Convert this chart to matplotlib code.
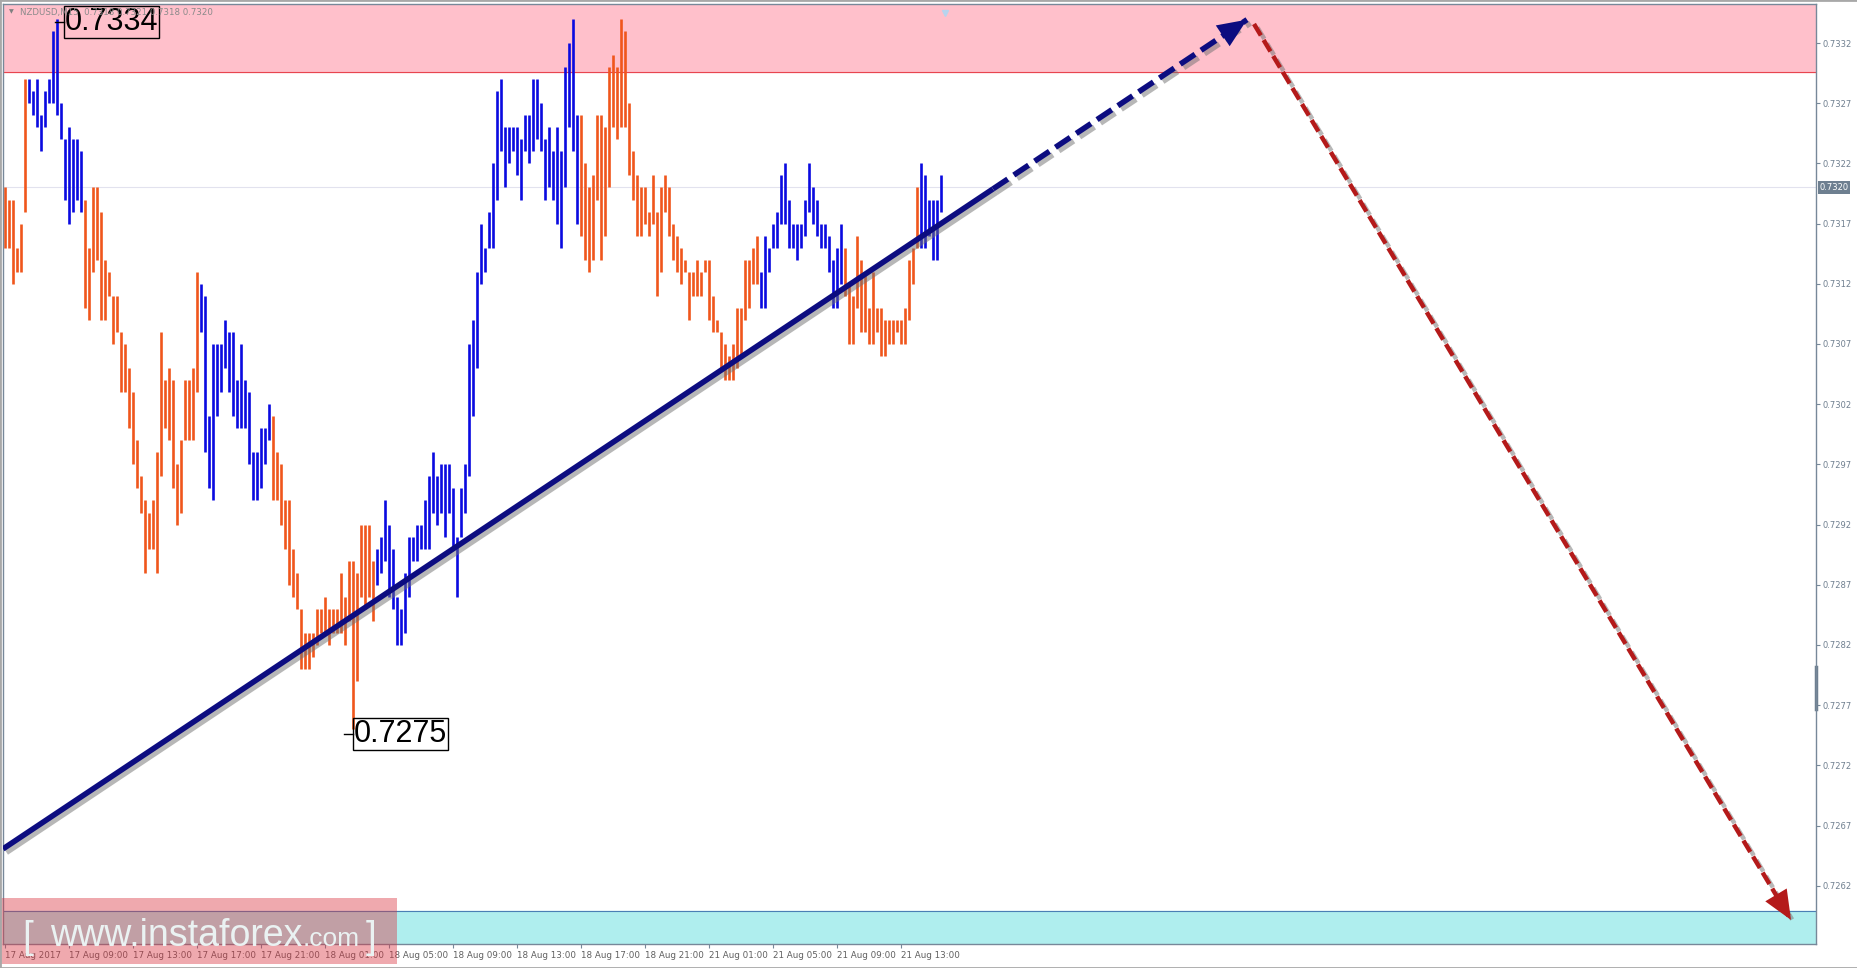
import matplotlib
matplotlib.use('Agg')
import matplotlib.pyplot as plt
import matplotlib.patheffects as pe
import matplotlib.transforms as mtransforms
from matplotlib.patches import Rectangle
import numpy as np

# NZDUSD M15, high / low of each bar in pips (0.0001)
highs = [7320, 7319, 7319, 7315, 7317, 7329, 7329, 7328, 7329, 7326, 7328, 7329, 7333, 7334, 7327, 7324, 7325, 7324, 7324, 7323,
         7319, 7315, 7320, 7320, 7318, 7314, 7313, 7311, 7311, 7308, 7307, 7305, 7303, 7299, 7296, 7294, 7293, 7294, 7298, 7308,
         7304, 7305, 7304, 7297, 7299, 7304, 7304, 7305, 7313, 7312, 7311, 7301, 7307, 7307, 7307, 7309, 7308, 7308, 7304,
         7307, 7304, 7303, 7298, 7298, 7300, 7300, 7302, 7301, 7298, 7297, 7294, 7294, 7290, 7288, 7285, 7283, 7283, 7283, 7285,
         7285, 7286, 7285, 7285, 7285, 7288, 7286, 7289, 7289, 7288, 7292, 7292, 7292, 7289, 7290, 7291, 7294, 7292, 7290, 7286,
         7285, 7288, 7291, 7291, 7292, 7292, 7294, 7296, 7298, 7296, 7297, 7297, 7297, 7295, 7291, 7295, 7297, 7307, 7309, 7313,
         7317, 7315, 7318, 7322, 7328, 7329, 7325, 7325, 7325, 7325, 7324, 7326, 7326, 7329, 7329, 7327, 7324, 7325, 7323, 7325,
         7323, 7330, 7332, 7334, 7326, 7326, 7322, 7320, 7321, 7326, 7326, 7325, 7330, 7331, 7330, 7334, 7333, 7327, 7323, 7321,
         7320, 7320, 7318, 7321, 7318, 7320, 7321, 7320, 7317, 7316, 7315, 7314, 7313, 7313, 7314, 7313, 7314, 7314, 7311, 7309,
         7308, 7307, 7306, 7307, 7310, 7310, 7314, 7314, 7315, 7316, 7313, 7316, 7315, 7317, 7318, 7321, 7322, 7319, 7317, 7317,
         7317, 7319, 7322, 7320, 7319, 7317, 7317, 7316, 7314, 7315, 7317, 7315, 7312, 7311, 7316, 7314, 7313, 7310, 7313, 7310,
         7310, 7309, 7309, 7309, 7309, 7309, 7310, 7314, 7315, 7320, 7322, 7321, 7319, 7319, 7319, 7321]
lows = [7315, 7315, 7312, 7313, 7313, 7318, 7327, 7326, 7325, 7323, 7325, 7327, 7327, 7326, 7324, 7319, 7317, 7318, 7319, 7318,
        7310, 7309, 7313, 7314, 7309, 7309, 7311, 7307, 7308, 7303, 7303, 7300, 7297, 7295, 7293, 7288, 7290, 7290, 7288, 7296,
        7300, 7299, 7295, 7292, 7293, 7299, 7299, 7299, 7303, 7308, 7298, 7295, 7294, 7301, 7303, 7305, 7303, 7301, 7300,
        7300, 7300, 7297, 7294, 7294, 7295, 7297, 7299, 7294, 7294, 7292, 7290, 7287, 7286, 7285, 7280, 7280, 7280, 7281, 7282,
        7283, 7283, 7282, 7283, 7283, 7283, 7282, 7284, 7275, 7279, 7286, 7285, 7286, 7284, 7287, 7288, 7289, 7286, 7285, 7282,
        7282, 7283, 7286, 7289, 7289, 7290, 7290, 7290, 7293, 7292, 7293, 7291, 7293, 7290, 7286, 7291, 7293, 7296, 7301, 7305,
        7312, 7313, 7315, 7315, 7319, 7323, 7320, 7322, 7323, 7321, 7319, 7323, 7322, 7323, 7324, 7323, 7319, 7320, 7319, 7317,
        7315, 7320, 7325, 7323, 7317, 7316, 7314, 7313, 7314, 7319, 7314, 7316, 7320, 7325, 7324, 7325, 7325, 7321, 7319, 7316,
        7316, 7317, 7316, 7317, 7311, 7313, 7318, 7316, 7314, 7313, 7312, 7313, 7309, 7311, 7311, 7311, 7313, 7309, 7308, 7308,
        7305, 7304, 7304, 7304, 7305, 7306, 7309, 7310, 7312, 7312, 7310, 7310, 7313, 7315, 7315, 7317, 7317, 7315, 7315, 7314,
        7315, 7316, 7318, 7317, 7316, 7315, 7315, 7313, 7310, 7310, 7312, 7311, 7307, 7307, 7310, 7308, 7308, 7307, 7307, 7308,
        7306, 7306, 7307, 7307, 7308, 7307, 7307, 7309, 7312, 7315, 7315, 7315, 7316, 7314, 7314, 7318]
# o = orange (down wave), b = blue (up wave)
bar_dirs = ("oooooo" "bbbbbbbbbbbbbb" "ooooooooooooooooooooooooooooo" "bbbbbbbbbb"
            "bbbbbbbb" "oooooooooooooooooooooooooo" "bbbbbbbbbbbbbbbbbbbbbbbbbb"
            "bbbbbbbbbbbbbbbbbbbbbbbbb" "ooooooooooooooooooooooooooooooooooo"
            "oooooooooo" "bbbbbbbbbbbbbbbbbbbbb" "ooooooooooooooooooo" "bbbbbb")

time_labels = ['17 Aug 2017', '17 Aug 09:00', '17 Aug 13:00', '17 Aug 17:00', '17 Aug 21:00',
               '18 Aug 01:00', '18 Aug 05:00', '18 Aug 09:00', '18 Aug 13:00', '18 Aug 17:00',
               '18 Aug 21:00', '21 Aug 01:00', '21 Aug 05:00', '21 Aug 09:00', '21 Aug 13:00']
price_ticks = [0.7262, 0.7267, 0.7272, 0.7277, 0.7282, 0.7287, 0.7292, 0.7297,
               0.7302, 0.7307, 0.7312, 0.7317, 0.7322, 0.7327, 0.7332]

resist_zone = [0.73296, 0.7336]
support_zone = [0.7250, 0.72599]
last_price = 0.7320

# trend line (bar index, price) and forecast arrows
trend_x = [-0.5, 247]
trend_p = [0.726506, 0.731988]
trend_ext_x = [247, 310.5]
trend_ext_p = [0.731988, 0.733394]
down_x = [312.25, 446.5]
down_p = [0.733358, 0.725916]

hi_label = (13, 0.7334)
lo_label = (87, 0.7275)

W, H = 1858, 968
fig = plt.figure(figsize=(W / 100, H / 100), dpi=100)
ax = fig.add_axes([3 / W, 24 / H, (1816 - 3) / W, (944 - 4) / H])

hi = np.array(highs) / 1e4
lo = np.array(lows) / 1e4
x = np.arange(len(hi))
cols = ['#f0561c' if c == 'o' else '#0a0ae0' for c in bar_dirs]

ax.axhspan(resist_zone[0], resist_zone[1], color='#ffc0cb', zorder=0)
ax.axhline(resist_zone[0], color='#e8454f', lw=0.8, zorder=0.5)
ax.axhspan(support_zone[0], support_zone[1], color='#afeeee', zorder=0)
ax.axhline(support_zone[1], color='#4a7fb5', lw=0.8, zorder=0.5)
ax.axhline(last_price, color='#e2e2ee', lw=0.8, zorder=0.6)

ax.vlines(x, lo, hi, colors=cols, lw=1.9, zorder=2)

shadow = [pe.SimpleLineShadow(offset=(2.5, -2.5), shadow_color='#707070', alpha=0.5), pe.Normal()]
navy = '#0c0c80'
red = '#b41a1a'
ax.plot(trend_x, trend_p, color=navy, lw=4, solid_capstyle='butt', zorder=4, path_effects=shadow)
ax.plot(trend_ext_x, trend_ext_p, color=navy, lw=4, dashes=(3.2, 1.3), zorder=4, path_effects=shadow)
ax.plot(down_x, down_p, color=red, lw=3.2, dashes=(3.0, 1.2), zorder=4, path_effects=shadow)

def head(xs, ps, color):
    back = 0.12
    bx = xs[1] - back * (xs[1] - xs[0])
    bp = ps[1] - back * (ps[1] - ps[0])
    ax.annotate('', xy=(xs[1], ps[1]), xytext=(bx, bp),
                arrowprops=dict(arrowstyle='-|>,head_length=1.05,head_width=0.45', mutation_scale=20,
                                color=color, lw=0, shrinkA=0, shrinkB=0), zorder=5)

head(trend_ext_x, trend_ext_p, navy)
head(down_x, down_p, red)

# price labels of the extremes
for (bi, p), dy, tx in [(hi_label, -0.000024, 1.9), (lo_label, -0.00004, 0.2)]:
    ax.plot([tx + bi - 2.5, tx + bi - 0.2], [p + dy] * 2, color='black', lw=1, zorder=5)
    ax.text(bi + tx, p + dy, '%.4f' % p, fontsize=22, family='Liberation Sans', color='black',
            ha='left', va='center', zorder=6,
            bbox=dict(boxstyle='square,pad=0.03', fc='none', ec='black', lw=1))

ax.set_xlim(-0.5, 452.75)
ax.set_ylim(0.725716, 0.733524)

ax.yaxis.tick_right()
ax.set_yticks(price_ticks)
ax.set_yticklabels(['%.4f' % t for t in price_ticks])
ax.tick_params(axis='y', direction='out', length=3, width=0.8, color='#778899',
               labelsize=6, labelcolor='#6f7f8f', pad=2)
ax.set_xticks(np.arange(0, 16 * len(time_labels), 16))
ax.set_xticklabels(time_labels, ha='left')
ax.tick_params(axis='x', direction='out', length=3, width=0.8, color='#778899',
               labelsize=6.3, labelcolor='#606060', pad=2)
for s in ax.spines.values():
    s.set_color('#778899')
    s.set_linewidth(1)

blend = mtransforms.blended_transform_factory(ax.transAxes, ax.transData)
ax.text(1.002, last_price, '%.4f' % last_price, transform=blend, fontsize=6, color='white',
        ha='left', va='center', bbox=dict(boxstyle='square,pad=0.2', fc='#6e7f90', ec='none'))
ax.plot([1, 1], [0.727668, 0.728017], transform=blend, color='#6e7f90', lw=2.5, clip_on=False)
ax.plot([235], [0.73345], marker='v', color='#b8d4ee', ms=5, clip_on=False)

fig.text(9 / W, 1 - 12 / H, '\u25bc', fontsize=4.5, color='#808080', va='center')
fig.text(20 / W, 1 - 12 / H, 'NZDUSD,M15  0.7318 0.7321 0.7318 0.7320', fontsize=6.2,
         color='#8a8a8a', va='center')

# watermark
fig.patches.append(Rectangle((0, 1 - 964 / H), 397 / W, 66 / H, transform=fig.transFigure,
                             fc=(0.86, 0.2, 0.25), alpha=0.42, ec='none', zorder=10))
wm = dict(family='Liberation Sans', color='#eaf2f2', va='baseline', ha='left', zorder=11)
fig.text(22 / W, 1 - 948 / H, '[', fontsize=28, **wm)
t1 = fig.text(50 / W, 1 - 946 / H, 'www.instaforex', fontsize=27, **wm)
fig.canvas.draw()
ext = t1.get_window_extent(fig.canvas.get_renderer())
t2 = fig.text(ext.x1 / W, 1 - 946 / H, '.com', fontsize=19, **wm)
fig.text(366 / W, 1 - 948 / H, ']', fontsize=28, **wm)

fig.patches.append(Rectangle((0, 0), 1, 1, transform=fig.transFigure, fill=False,
                             ec='#a8a8a8', lw=2, zorder=12))

plt.savefig('out.png', dpi=100)
